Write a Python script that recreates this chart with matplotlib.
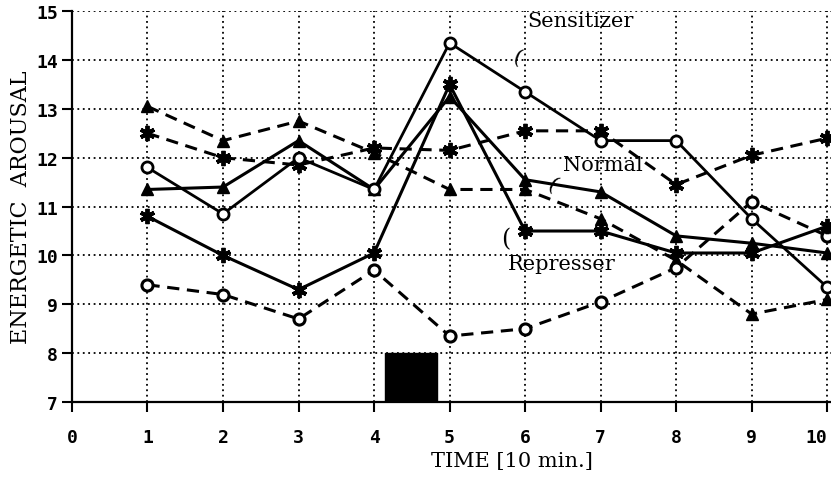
import numpy as np
import matplotlib.pyplot as plt

time = np.arange(1, 11)
sens_solid = [11.8, 10.85, 12.0, 11.35, 14.35, 13.35, 12.35, 12.35, 10.75, 9.35]
sens_dash = [9.4, 9.2, 8.7, 9.7, 8.35, 8.5, 9.05, 9.75, 11.1, 10.4]
norm_solid = [11.35, 11.4, 12.35, 11.35, 13.25, 11.55, 11.3, 10.4, 10.25, 10.05]
norm_dash = [13.05, 12.35, 12.75, 12.1, 11.35, 11.35, 10.75, 9.9, 8.8, 9.1]
rep_solid = [10.8, 10.0, 9.3, 10.05, 13.5, 10.5, 10.5, 10.05, 10.05, 10.6]
rep_dash = [12.5, 12.0, 11.85, 12.2, 12.15, 12.55, 12.55, 11.45, 12.05, 12.4]

tick_font = dict(family='DejaVu Sans Mono', weight='bold', size=13)
serif = 'DejaVu Serif'

fig = plt.figure(figsize=(8.31, 4.85), dpi=100)
ax = fig.add_axes([0.0866, 0.169, 0.9134, 0.806])

dash = (0, (4, 2.5))
star = (6, 2, 0)
ax.plot(time, norm_dash, linestyle=dash, color='black', lw=2.2, marker='^', ms=8, zorder=3)
ax.plot(time, rep_dash, linestyle=dash, color='black', lw=2.2, marker=star, ms=11, mew=2.8, zorder=3)
ax.plot(time, sens_dash, linestyle=dash, color='black', lw=2.2, marker='o', ms=8,
        mfc='white', mec='black', mew=2.2, zorder=3)
ax.plot(time, norm_solid, '-', color='black', lw=2.2, marker='^', ms=8, zorder=4)
ax.plot(time, rep_solid, '-', color='black', lw=2.2, marker=star, ms=11, mew=2.8, zorder=4)
ax.plot(time, sens_solid, '-', color='black', lw=2.0, marker='o', ms=8,
        mfc='white', mec='black', mew=2.0, zorder=5)

# stimulus bar
ax.fill_between([4.15, 4.83], 7, 8, color='black', zorder=2)

ax.set_xlim(0, 10.05)
ax.set_ylim(7, 15)
ax.set_xticks(range(0, 11))
ax.set_yticks(range(7, 16))
ax.set_xticklabels([str(i) for i in range(0, 11)], fontdict=tick_font)
ax.set_yticklabels([str(i) for i in range(7, 16)], fontdict=tick_font)
ax.get_xticklabels()[-1].set_ha('right')
ax.grid(True, linestyle=(0, (1, 2)), color='black', lw=1.3)
ax.spines['top'].set_visible(False)
ax.spines['right'].set_visible(False)
ax.spines['left'].set_linewidth(1.6)
ax.spines['bottom'].set_linewidth(1.6)
ax.tick_params(direction='out', length=7, width=1.5, pad=3)
ax.tick_params(axis='x', pad=12)

ax.set_ylabel('ENERGETIC  AROUSAL', family=serif, fontsize=16)
ax.yaxis.set_label_coords(-0.053, 0.5)
ax.set_xlabel('TIME [10 min.]', family=serif, fontsize=15)
ax.xaxis.set_label_coords(0.58, -0.125)

ax.text(6.03, 14.8, 'Sensitizer', family=serif, fontsize=15, va='center')
ax.text(5.8, 14.05, '(', family=serif, fontsize=15, va='center', rotation=-20)
ax.text(6.5, 11.87, 'Normal', family=serif, fontsize=15, va='center')
ax.text(6.25, 11.45, '(', family=serif, fontsize=15, va='center', rotation=-30)
ax.text(5.77, 9.83, 'Represser', family=serif, fontsize=15, va='center')
ax.text(5.68, 10.35, '(', family=serif, fontsize=17, va='center')

fig.savefig('out.png', dpi=100)
